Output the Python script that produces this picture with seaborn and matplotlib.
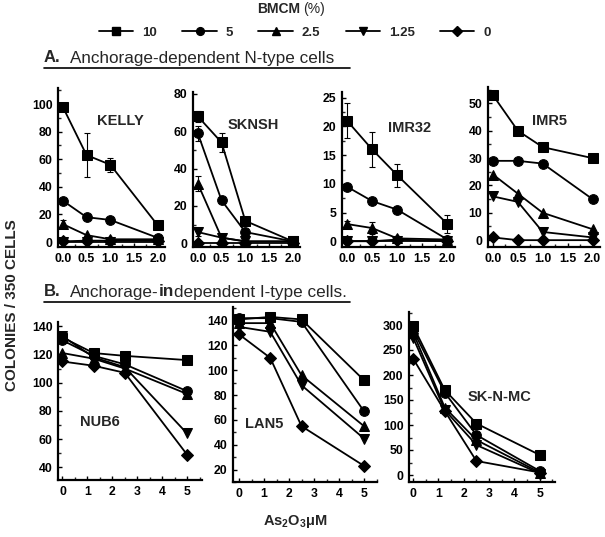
import matplotlib
matplotlib.use("Agg")
import matplotlib.pyplot as plt
from matplotlib.lines import Line2D
from matplotlib.ticker import MultipleLocator, FormatStrFormatter
import seaborn as sns

# As2O3 doses (uM)
dose_a = [0, 0.5, 1.0, 2.0]
dose_b = [0, 1.25, 2.5, 5]

# BMCM (%) series, order: 10, 5, 2.5, 1.25, 0
bmcm = ["10", "5", "2.5", "1.25", "0"]

# A. anchorage-dependent N-type cells
kelly = [[98, 63, 56, 12], [30, 18, 16, 3], [13, 5, 2, 2], [0, 0, 0, 0], [0.5, 1, 1, 1]]
kelly_err = [[2, 16, 5, 0], [2, 1, 1, 0], [3, 0, 0, 0], [0, 0, 0, 0], [0, 0, 0, 0]]
sknsh = [[68, 54, 12, 1], [59, 23, 6, 1], [32, 3, 1, 1], [6, 3, 1, 1], [0, 0, 0, 0]]
sknsh_err = [[3, 5, 1, 0], [4, 1, 0, 0], [4, 0, 0, 0], [2, 0, 0, 0], [0, 0, 0, 0]]
imr32 = [[21, 16, 11.5, 3], [9.5, 7, 5.5, 0.3], [3, 2.3, 0.5, 0.3], [0, 0, 0, 0], [0, 0, 0.3, 0]]
imr32_err = [[3, 3, 2, 1.5], [0.5, 0.3, 0.3, 0], [0.5, 1, 0, 0], [0, 0, 0, 0], [0, 0, 0, 0]]
imr5 = [[53, 40, 34, 30], [29, 29, 28, 15], [24, 17, 10, 4], [16, 14, 3, 1], [1, 0, 0, 0]]

# B. anchorage-independent I-type cells
nub6 = [[132, 121, 119, 116], [130, 119, 113, 94], [121, 117, 110, 92], [133, 118, 111, 64], [115, 112, 107, 49]]
lan5 = [[141, 143, 141, 92], [142, 142, 139, 67], [138, 138, 96, 55], [135, 131, 88, 45], [129, 110, 55, 23]]
sknmc = [[298, 170, 103, 40], [290, 165, 80, 8], [285, 135, 70, 5], [275, 130, 60, 3], [233, 128, 28, 5]]

markers = ["s", "o", "^", "v", "D"]
msizes = [6.5, 7, 7, 7, 6]

sns.set_theme(style="ticks")
plt.rcParams["font.family"] = ["Liberation Sans", "DejaVu Sans"]
plt.rcParams["mathtext.fontset"] = "custom"
plt.rcParams["mathtext.bf"] = "Liberation Sans:bold"
plt.rcParams["mathtext.rm"] = "Liberation Sans:bold"

W, H = 605, 537
fig = plt.figure(figsize=(W / 100, H / 100), dpi=100)


def px_axes(x0, y0, x1, y1):
    return fig.add_axes([x0 / W, 1 - y1 / H, (x1 - x0) / W, (y1 - y0) / H])


def panel(rect, dose, rows, errs, name, name_pos, xlim, ylim, ystep, xstep, xfmt):
    ax = px_axes(*rect)
    for i, vals in enumerate(rows):
        sns.lineplot(x=dose, y=vals, ax=ax, color="black", lw=1.3, marker=markers[i],
                     markersize=msizes[i], markeredgecolor="black", markerfacecolor="black",
                     errorbar=None, legend=False)
        if errs is not None:
            e = errs[i]
            xs = [d for d, v in zip(dose, e) if v > 0]
            ys = [y for y, v in zip(vals, e) if v > 0]
            es = [v for v in e if v > 0]
            if es:
                ax.errorbar(xs, ys, yerr=es, fmt="none", ecolor="black", elinewidth=0.8,
                            capsize=2, capthick=0.8)
    ax.set_xlim(*xlim)
    ax.set_ylim(*ylim)
    ax.xaxis.set_major_locator(MultipleLocator(xstep))
    ax.xaxis.set_minor_locator(MultipleLocator(xstep / 2))
    ax.xaxis.set_major_formatter(FormatStrFormatter(xfmt))
    ax.yaxis.set_major_locator(MultipleLocator(ystep))
    ax.yaxis.set_minor_locator(MultipleLocator(ystep / 2))
    ax.set_xlabel("")
    ax.set_ylabel("")
    for s in ["top", "right"]:
        ax.spines[s].set_visible(False)
    for s in ["left", "bottom"]:
        ax.spines[s].set_linewidth(1.6)
        ax.spines[s].set_color("black")
    ax.tick_params(which="major", direction="in", length=3, width=1, pad=4,
                   labelsize=8.8, colors="black")
    ax.tick_params(which="minor", direction="in", length=2, width=1)
    for lab in ax.get_xticklabels() + ax.get_yticklabels():
        lab.set_fontweight("bold")
    ax.text(name_pos[0], name_pos[1], name, transform=ax.transAxes, ha="center",
            va="center", fontsize=10.5, fontweight="bold")
    ax.set_facecolor("none")
    return ax


xa = (-0.1, 2.15)
panel((58, 88, 165, 247), dose_a, kelly, kelly_err, "KELLY", (0.58, 0.79), xa, (-3.6, 111.6), 20, 0.5, "%.1f")
panel((193, 92, 300, 247), dose_a, sknsh, sknsh_err, "SKNSH", (0.56, 0.79), xa, (-2, 81), 20, 0.5, "%.1f")
panel((342, 92, 455, 247), dose_a, imr32, imr32_err, "IMR32", (0.6, 0.77), xa, (-1, 26), 5, 0.5, "%.1f")
panel((488, 87, 600, 247), dose_a, imr5, None, "IMR5", (0.55, 0.79), xa, (-2.5, 56), 10, 0.5, "%.1f")

panel((58, 322, 202, 480), dose_b, nub6, None, "NUB6", (0.29, 0.37), (-0.18, 5.6), (31, 143), 20, 1, "%d")
panel((233, 307, 377, 482), dose_b, lan5, None, "LAN5", (0.22, 0.33), (-0.24, 5.52), (10, 151), 20, 1, "%d")
panel((409, 312, 555, 482), dose_b, sknmc, None, "SK-N-MC", (0.62, 0.5), (-0.16, 5.6), (-14, 326), 50, 1, "%d")

# legend and headers
fig.text(300 / W, 1 - 9 / H, "BMCM", ha="right", va="center", fontsize=10, fontweight="bold")
fig.text(303 / W, 1 - 9 / H, "(%)", ha="left", va="center", fontsize=10)
handles = [Line2D([], [], color="black", lw=1.3, marker=m, markersize=s * 0.8)
           for m, s in zip(markers, msizes)]
fig.legend(handles, bmcm, loc="center", bbox_to_anchor=(295 / W, 1 - 33 / H), ncol=5,
           frameon=False, handlelength=2.6, handletextpad=0.7, columnspacing=1.9,
           prop={"weight": "bold", "size": 9.5})

fig.text(44 / W, 1 - 58 / H, "A.", ha="left", va="center", fontsize=12, fontweight="bold")
fig.text(70 / W, 1 - 58 / H, "Anchorage-dependent N-type cells", ha="left", va="center", fontsize=12.3)
fig.add_artist(Line2D([44 / W, 350 / W], [1 - 68 / H, 1 - 68 / H], color="black", lw=1.2))

# B header: "in" of independent is bold in the original
fig.text(44 / W, 1 - 292 / H, "B.", ha="left", va="center", fontsize=12, fontweight="bold")
renderer = fig.canvas.get_renderer()
x_px = 70
for part, wt in [("Anchorage-", "normal"), ("in", "bold"), ("dependent I-type cells.", "normal")]:
    t = fig.text(x_px / W, 1 - 292 / H, part, ha="left", va="center", fontsize=12.3, fontweight=wt)
    x_px += t.get_window_extent(renderer).width
fig.add_artist(Line2D([44 / W, 350 / W], [1 - 302 / H, 1 - 302 / H], color="black", lw=1.2))

fig.text(12 / W, 1 - 305 / H, "COLONIES / 350 CELLS", rotation=90, ha="center", va="center",
         fontsize=11, fontweight="bold")
fig.text(295 / W, 1 - 521 / H, r"As$_{2}$O$_{3}$μM", ha="center", va="center",
         fontsize=10.5, fontweight="bold")

fig.savefig("out.png", dpi=100)
